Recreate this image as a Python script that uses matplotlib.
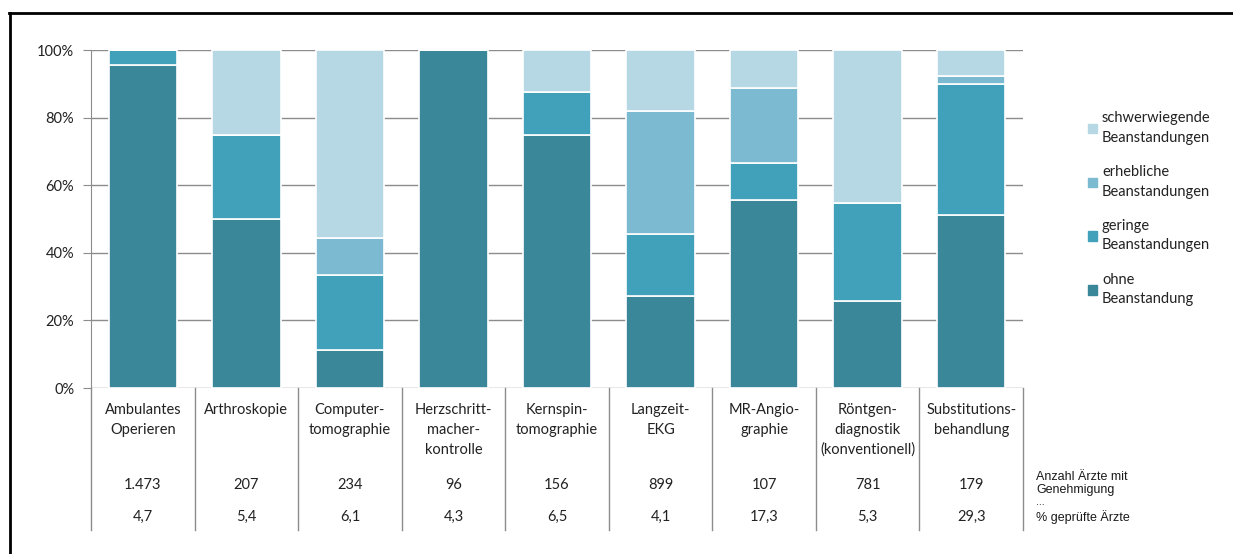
import matplotlib.pyplot as plt
import matplotlib.lines as mlines
import matplotlib.patches as mpatches
import numpy as np

plt.rcParams['font.family'] = ['Lato', 'DejaVu Sans']

categories = ["Ambulantes\nOperieren", "Arthroskopie", "Computer-\ntomographie",
              "Herzschritt-\nmacher-\nkontrolle", "Kernspin-\ntomographie",
              "Langzeit-\nEKG", "MR-Angio-\ngraphie",
              "Röntgen-\ndiagnostik\n(konventionell)", "Substitutions-\nbehandlung"]
ohne = [95.6, 50.0, 11.1, 100.0, 75.0, 27.3, 55.6, 25.8, 51.3]
geringe = [4.4, 25.0, 22.2, 0.0, 12.5, 18.2, 11.1, 29.0, 38.5]
erheblich = [0.0, 0.0, 11.1, 0.0, 0.0, 36.4, 22.2, 0.0, 2.6]
schwer = [0.0, 25.0, 55.6, 0.0, 12.5, 18.1, 11.1, 45.2, 7.6]
anzahl = ["1.473", "207", "234", "96", "156", "899", "107", "781", "179"]
geprueft = ["4,7", "5,4", "6,1", "4,3", "6,5", "4,1", "17,3", "5,3", "29,3"]
series_names = ["ohne\nBeanstandung", "geringe\nBeanstandungen",
                "erhebliche\nBeanstandungen", "schwerwiegende\nBeanstandungen"]
colors = ["#3a8799", "#42a1ba", "#7bbad0", "#b6d7e4"]

W, H = 1233, 554
fig = plt.figure(figsize=(W / 100, H / 100), dpi=100)
ax = fig.add_axes([91 / W, 1 - 388 / H, (1023 - 91) / W, (388 - 50) / H])

x = np.arange(len(categories))
bottom = np.zeros(len(categories))
handles = []
for vals, name, col in zip([ohne, geringe, erheblich, schwer], series_names, colors):
    ax.bar(x, vals, width=0.66, bottom=bottom, color=col,
           edgecolor="white", linewidth=1.2, label=name, zorder=2)
    bottom += np.array(vals)
    handles.append(mpatches.Patch(color=col, label=name))

ax.set_xlim(-0.5, len(categories) - 0.5)
ax.set_ylim(0, 100)
ax.set_yticks(range(0, 101, 20))
ax.set_yticklabels([f"{v}%" for v in range(0, 101, 20)], fontsize=10.5, color="#222222")
ax.set_xticks([])
ax.yaxis.grid(True, color="#8c8c8c", linewidth=1)
ax.set_axisbelow(True)
ax.tick_params(axis="y", length=6, color="#8c8c8c", pad=6)
for s in ["top", "right", "bottom"]:
    ax.spines[s].set_visible(False)
ax.spines["left"].set_color("#8c8c8c")

# table below the bars
ybot = -(530 - 388) / 338 * 100
for b in np.arange(-0.5, len(categories), 1.0):
    ax.plot([b, b], [0, ybot], color="#8c8c8c", linewidth=1, clip_on=False)
for i, cat in enumerate(categories):
    ax.text(i, -4.3, cat, ha="center", va="top", fontsize=10.5,
            linespacing=1.55, color="#222222", clip_on=False)
    ax.text(i, -(485 - 388) / 3.38, anzahl[i], ha="center", va="center",
            fontsize=10.5, color="#222222", clip_on=False)
    ax.text(i, -(517 - 388) / 3.38, geprueft[i], ha="center", va="center",
            fontsize=10.5, color="#222222", clip_on=False)

fig.text(1036 / W, 1 - 471 / H, "Anzahl Ärzte mit\nGenehmigung", ha="left", va="top",
         fontsize=9, family="Liberation Sans", linespacing=1.15, color="#1a1a1a")
fig.text(1036 / W, 1 - 497 / H, "...", ha="left", va="top",
         fontsize=7.5, family="Liberation Sans", color="#1a1a1a")
fig.text(1036 / W, 1 - 510 / H, "% geprüfte Ärzte", ha="left", va="top",
         fontsize=9, family="Liberation Sans", color="#1a1a1a")

leg = fig.legend(handles=handles[::-1], loc="upper left",
                 bbox_to_anchor=(1075 / W, 1 - 98 / H),
                 frameon=False, fontsize=10.5, handlelength=0.6, handleheight=0.6,
                 handletextpad=0.35, labelspacing=1.4)
for t in leg.get_texts():
    t.set_linespacing(1.5)
    t.set_color("#222222")

# outer frame
fig.add_artist(mlines.Line2D([9 / W, 1], [1 - 13 / H, 1 - 13 / H], color="black", linewidth=2))
fig.add_artist(mlines.Line2D([10 / W, 10 / W], [0, 1 - 13 / H], color="black", linewidth=2))

plt.savefig("out.png", dpi=100)
